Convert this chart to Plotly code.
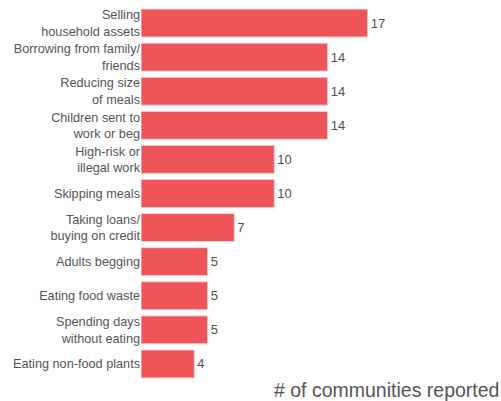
import plotly.graph_objects as go

categories = [
    "Selling<br>household assets",
    "Borrowing from family/<br>friends",
    "Reducing size<br>of meals",
    "Children sent to<br>work or beg",
    "High-risk or<br>illegal work",
    "Skipping meals",
    "Taking loans/<br>buying on credit",
    "Adults begging",
    "Eating food waste",
    "Spending days<br>without eating",
    "Eating non-food plants",
]
values = [17, 14, 14, 14, 10, 10, 7, 5, 5, 5, 4]

fig = go.Figure(go.Bar(
    x=values,
    y=categories,
    orientation="h",
    marker=dict(color="#ef5459", line=dict(color="#fbd0d2", width=1)),
    text=[str(v) for v in values],
    textposition="outside",
    textfont=dict(size=13, color="#505050"),
    cliponaxis=False,
))

fig.update_layout(
    width=501,
    height=401,
    margin=dict(l=141, r=0, t=6, b=20),
    paper_bgcolor="white",
    plot_bgcolor="white",
    bargap=0.18,
    font=dict(family="Liberation Sans, Arial, sans-serif", size=13, color="#555555"),
    showlegend=False,
    xaxis=dict(range=[0, 27], showgrid=False, zeroline=False, showticklabels=False, showline=False),
    yaxis=dict(autorange="reversed", showgrid=False, zeroline=False, showline=False,
               ticks="", tickfont=dict(size=12.7, color="#555555"), automargin=False),
    annotations=[dict(
        text="# of communities reported", x=1, y=0, xref="paper", yref="paper",
        xanchor="right", yanchor="top", showarrow=False, yshift=4, xshift=0,
        font=dict(size=19.5, color="#555555"),
    )],
)

fig.write_html("out.html", config={"displayModeBar": False},
               post_script="document.body.style.margin='0';document.body.style.overflow='hidden';")
